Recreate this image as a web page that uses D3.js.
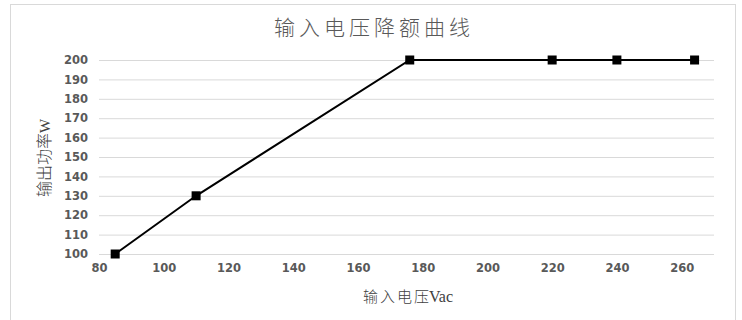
<!DOCTYPE html>
<html>
<head>
<meta charset="utf-8">
<script src="https://cdn.jsdelivr.net/npm/d3@7/dist/d3.min.js"></script>
<style>
  html, body { margin: 0; padding: 0; background: #fff; }
  svg { display: block; }
</style>
</head>
<body>
<script>
// Input voltage derating curve: output power (W) vs. input voltage (Vac)
const voltage = [85, 110, 176, 220, 240, 264];
const power = [100, 130, 200, 200, 200, 200];
const xTicks = [80, 100, 120, 140, 160, 180, 200, 220, 240, 260];
const yTicks = [100, 110, 120, 130, 140, 150, 160, 170, 180, 190, 200];
const titleText = "输入电压降额曲线";
const xTitleCJK = "输入电压", xTitleUnit = "Vac";
const yTitleCJK = "输出功率", yTitleUnit = "W";

const W = 742, H = 320;
const svg = d3.select("body").append("svg").attr("width", W).attr("height", H);

// chart frame
svg.append("rect")
  .attr("x", 10.5).attr("y", 4.5)
  .attr("width", 725).attr("height", 330)
  .attr("fill", "#fff").attr("stroke", "#d9d9d9");

const x = d3.scaleLinear().domain([80, 270]).range([99, 714]);
const y = d3.scaleLinear().domain([100, 200]).range([254, 60]);

// horizontal gridlines
svg.append("g")
  .attr("transform", `translate(${x(80)},0)`)
  .call(d3.axisLeft(y).tickValues(yTicks).tickSize(-(x(270) - x(80))).tickFormat(""))
  .call(g => g.select(".domain").remove())
  .call(g => g.selectAll("line").attr("stroke", "#d9d9d9").attr("stroke-width", 1));

const tickStyle = g => g.selectAll("text")
  .attr("fill", "#595959")
  .style("font-family", "'DejaVu Sans', sans-serif")
  .style("font-size", "11.5px")
  .style("font-weight", "bold");

// y tick labels
svg.append("g")
  .attr("transform", `translate(${x(80)},0)`)
  .call(d3.axisLeft(y).tickValues(yTicks).tickSize(0).tickPadding(11))
  .call(g => g.select(".domain").remove())
  .call(tickStyle);

// x tick labels
svg.append("g")
  .attr("transform", `translate(0,${y(100)})`)
  .call(d3.axisBottom(x).tickValues(xTicks).tickSize(0).tickPadding(10))
  .call(g => g.select(".domain").remove())
  .call(tickStyle);

const pts = voltage.map((v, i) => ({ v, p: power[i] }));

// curve
svg.append("path")
  .datum(pts)
  .attr("fill", "none")
  .attr("stroke", "#000")
  .attr("stroke-width", 2)
  .attr("d", d3.line().x(d => x(d.v)).y(d => y(d.p)));

// square markers
const ms = 9;
svg.append("g").selectAll("rect")
  .data(pts)
  .join("rect")
  .attr("x", d => x(d.v) - ms / 2)
  .attr("y", d => y(d.p) - ms / 2)
  .attr("width", ms).attr("height", ms)
  .attr("fill", "#000");

// title
svg.append("text")
  .attr("x", 374).attr("y", 35)
  .attr("text-anchor", "middle")
  .attr("fill", "#595959")
  .style("font-family", "'Noto Sans CJK SC', sans-serif")
  .style("font-size", "21px")
  .style("font-weight", 300)
  .style("letter-spacing", "4px")
  .text(titleText);

// axis titles
const xt = svg.append("text")
  .attr("x", 408).attr("y", 302)
  .attr("text-anchor", "middle")
  .attr("fill", "#404040")
  .style("font-size", "15px");
xt.append("tspan")
  .style("font-family", "'Noto Sans CJK SC', sans-serif")
  .style("font-weight", 300)
  .style("letter-spacing", "2px")
  .text(xTitleCJK);
xt.append("tspan")
  .attr("dx", -2)
  .style("font-family", "'Liberation Serif', serif")
  .style("font-size", "16px")
  .text(xTitleUnit);

const yt = svg.append("text")
  .attr("transform", "translate(50,158) rotate(-90)")
  .attr("text-anchor", "middle")
  .attr("fill", "#404040")
  .style("font-size", "16px");
yt.append("tspan")
  .style("font-family", "'Noto Sans CJK SC', sans-serif")
  .style("font-weight", 300)
  .text(yTitleCJK);
yt.append("tspan")
  .style("font-family", "'Liberation Serif', serif")
  .style("font-size", "15px")
  .text(yTitleUnit);
</script>
</body>
</html>
